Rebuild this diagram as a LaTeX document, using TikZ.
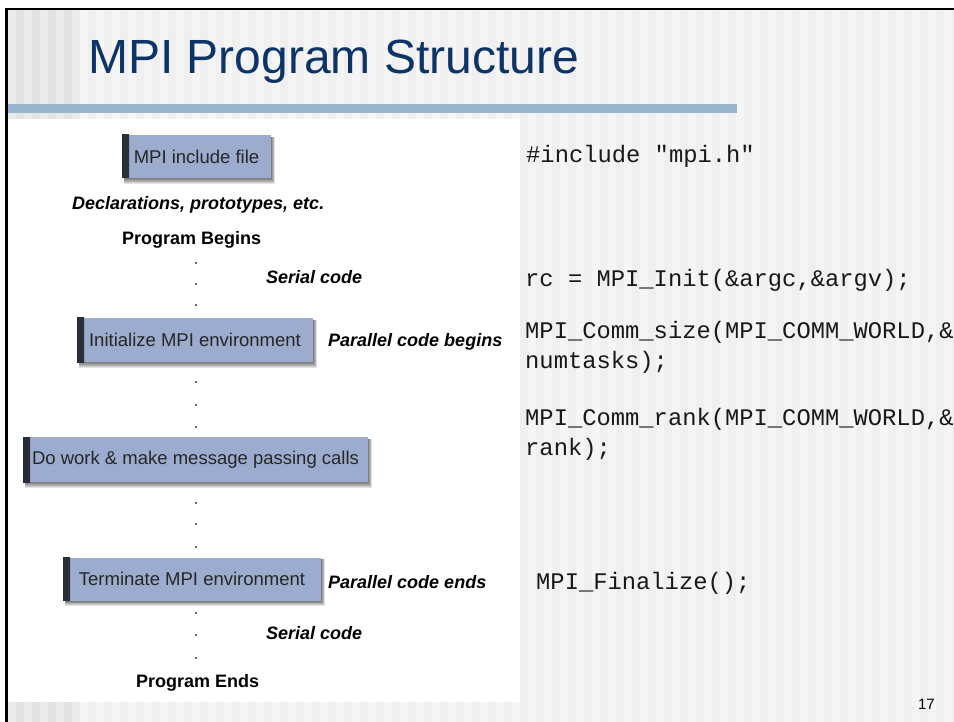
\documentclass[tikz,border=0pt]{standalone}
\usepackage{fontspec}
\setmainfont{Liberation Sans}
\setmonofont{Liberation Mono}
\definecolor{titleblue}{RGB}{12,52,102}
\definecolor{barblue}{RGB}{154,182,207}
\definecolor{boxblue}{RGB}{156,172,206}
\definecolor{stripeA}{RGB}{245,245,245}
\definecolor{stripeB}{RGB}{239,239,239}
\definecolor{stripeC}{RGB}{235,235,235}
\definecolor{stripeD}{RGB}{226,226,226}
\definecolor{edgecol}{RGB}{40,44,55}
\pgfdeclarelayer{bg}
\pgfdeclarelayer{shadowlayer}
\pgfsetlayers{bg,shadowlayer,main}
\newcommand{\softshadow}[1]{%
  \begin{pgfonlayer}{shadowlayer}
    \foreach \s in {1,...,6}
      \fill[black, opacity=0.11]
        ([xshift=2pt, yshift=-2pt]#1.north west) rectangle
        ([xshift={0.6pt*\s}, yshift={-0.9pt*\s}]#1.south east);
  \end{pgfonlayer}}
\begin{document}
\begin{tikzpicture}[x=1pt,y=-1pt,
  mbox/.style={rectangle, fill=boxblue, inner sep=0pt, text=black!85,
    font=\fontsize{18.5}{20}\selectfont,
    path picture={\shade[left color=edgecol, right color=boxblue]
      (path picture bounding box.south west) rectangle ([xshift=7pt]path picture bounding box.north west);}},
  lbl/.style={font=\fontsize{18}{20}\selectfont\bfseries\itshape, inner sep=0pt, anchor=west},
  hdr/.style={font=\fontsize{18}{20}\selectfont\bfseries, inner sep=0pt, anchor=west},
  code/.style={font=\fontsize{23.8}{29}\selectfont\ttfamily, inner sep=0pt, anchor=base west, text=black!90},
  dotn/.style={circle, fill=black!80, inner sep=0pt, minimum size=2.2pt}]
\useasboundingbox (0,0) rectangle (954,722);
\begin{pgfonlayer}{bg}
% background
\fill[white] (0,0) rectangle (954,722);
\fill[stripeB] (8,10) rectangle (954,722);
\foreach \i in {0,...,54} \fill[stripeA] ({80+16*\i},10) rectangle ({88+16*\i},722);
\fill[stripeD] (8,10) rectangle (80,722);
\foreach \x in {8,24,40,56,72} \fill[stripeC] (\x,10) rectangle ({\x+8},722);
% border
\fill[black] (5,8) rectangle (954,10);
\fill[black] (5,8) rectangle (8,722);
% bar and panel
\fill[barblue] (8,104) rectangle (737,113);
\fill[white] (8,119) rectangle (520,702);
\end{pgfonlayer}
% title
\node[anchor=base west, inner sep=0pt, text=titleblue, font=\fontsize{48}{50}\selectfont] (title) at (88,74) {MPI Program Structure};
% boxes
\node[mbox, minimum width=149pt, minimum height=43pt] (inc) at (196.5,156.5) {MPI include file};
\node[mbox, minimum width=236pt, minimum height=44pt] (init) at (195,340) {Initialize MPI environment};
\node[mbox, minimum width=345pt, minimum height=45pt] (work) at (195.5,459.5) {Do work \& make message passing calls};
\node[mbox, minimum width=258pt, minimum height=43pt] (term) at (192,579) {Terminate MPI environment};
\softshadow{inc}
\softshadow{init}
\softshadow{work}
\softshadow{term}
% labels
\node[lbl] (decl) at (72,205) {Declarations, prototypes, etc.};
\node[hdr] (begin) at (122,240) {Program Begins};
\node[lbl] (ser1) at (266,277) {Serial code};
\node[lbl] (pbeg) at (328,342) {Parallel code begins};
\node[lbl] (pend) at (328,582) {Parallel code ends};
\node[lbl] (ser2) at (266,633) {Serial code};
\node[hdr] (ends) at (136,683) {Program Ends};
% dots
\foreach \y [count=\k] in {263,284,305,382,405,427,503,524,547,613,635,658}
  \node[dotn] (dot\k) at (196,\y) {};
% code
\node[code] (c1) at (526,163) {\#include "mpi.h"};
\node[code] (c2) at (525,287) {rc = MPI\_Init(\&argc,\&argv);};
\node[code] (c3) at (525,338) {MPI\_Comm\_size(MPI\_COMM\_WORLD,\&};
\node[code] (c4) at (525,368) {numtasks);};
\node[code] (c5) at (525,425) {MPI\_Comm\_rank(MPI\_COMM\_WORLD,\&};
\node[code] (c6) at (525,455) {rank);};
\node[code] (c7) at (536,589) {MPI\_Finalize();};
% page number
\node[font=\fontsize{15}{17}\selectfont, anchor=base east, inner sep=0pt] (pg) at (935,709) {17};
\end{tikzpicture}
\end{document}
